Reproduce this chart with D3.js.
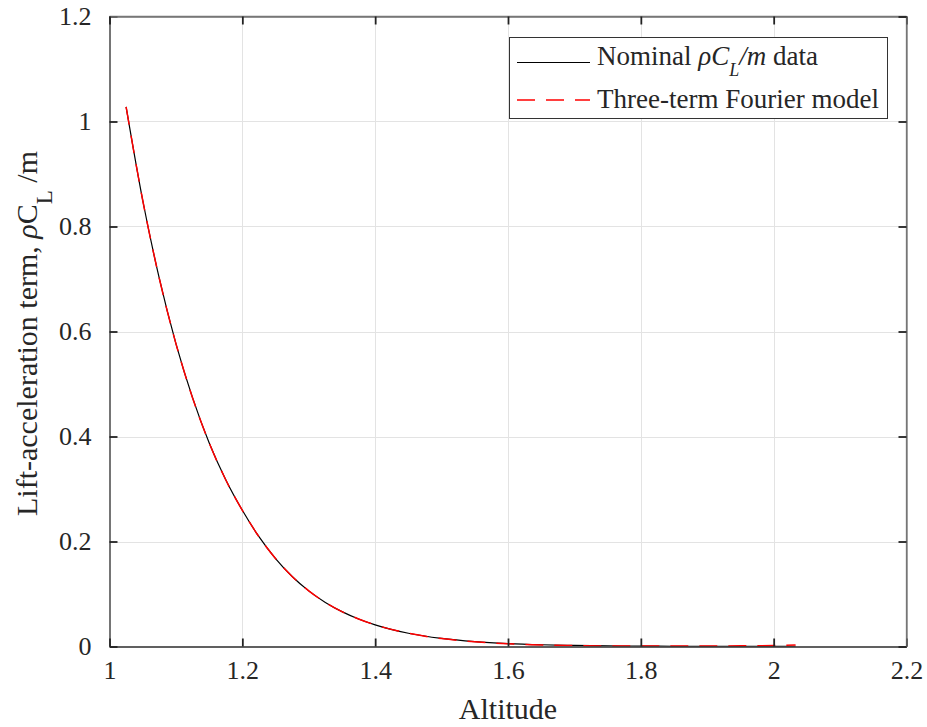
<!DOCTYPE html>
<html>
<head>
<meta charset="utf-8">
<script src="https://cdn.jsdelivr.net/npm/d3@7"></script>
<style>
  html, body { margin: 0; padding: 0; background: #fff; }
  svg { display: block; }
  text { font-family: "Liberation Serif", "Times New Roman", serif; fill: #262626; }
</style>
</head>
<body>
<svg id="chart" width="927" height="727"></svg>
<script>
// Altitude grid (normalised) and the lift-acceleration term rho*C_L/m
const altitude = [1.025, 1.05, 1.075, 1.1, 1.125, 1.15, 1.175, 1.2,
                  1.225, 1.25, 1.275, 1.3, 1.325, 1.35, 1.375, 1.4, 1.45, 1.5,
                  1.55, 1.6, 1.65, 1.7, 1.75, 1.8, 1.85, 1.9, 1.95, 2.0, 2.033];
const nominal = [1.028, 0.850, 0.701, 0.577, 0.474, 0.388, 0.3176, 0.2594,
                 0.2092, 0.1675, 0.1334, 0.106, 0.0840, 0.0664, 0.0524, 0.0412, 0.0252, 0.0153,
                 0.00924, 0.00555, 0.00331, 0.00197, 0.00117, 0.00069, 0.00041, 0.00024, 0.00014, 0.00008, 0.00006];
const fourier = [1.028, 0.850, 0.701, 0.577, 0.474, 0.388, 0.3176, 0.2594,
                 0.2092, 0.1675, 0.1334, 0.106, 0.0840, 0.0664, 0.0524, 0.0412, 0.0252, 0.0151,
                 0.0089, 0.0051, 0.0030, 0.0017, 0.0010, 0.0008, 0.0008, 0.0009, 0.0012, 0.0018, 0.0030];
const xTicks = [1, 1.2, 1.4, 1.6, 1.8, 2, 2.2];
const yTicks = [0, 0.2, 0.4, 0.6, 0.8, 1, 1.2];
const seriesNames = ["Nominal", "Three-term Fourier model"];

const svg = d3.select("#chart");
const L = 109.5, R = 906.5, T = 16.5, B = 646.5;

const x = d3.scaleLinear().domain([1, 2.2]).range([L, R]);
const y = d3.scaleLinear().domain([0, 1.2]).range([B, T]);

svg.append("defs").append("clipPath").attr("id", "plotArea")
  .append("rect").attr("x", L).attr("y", T).attr("width", R - L).attr("height", B - T);

// grid
const grid = svg.append("g").attr("stroke", "#e3e3e3").attr("stroke-width", 1);
grid.selectAll(".gx").data(xTicks.slice(1, -1)).join("line")
  .attr("x1", d => Math.round(x(d)) + 0.5).attr("x2", d => Math.round(x(d)) + 0.5)
  .attr("y1", T).attr("y2", B);
grid.selectAll(".gy").data(yTicks.slice(1, -1)).join("line")
  .attr("y1", d => Math.round(y(d)) + 0.5).attr("y2", d => Math.round(y(d)) + 0.5)
  .attr("x1", L).attr("x2", R);

// curves
const pts = vals => altitude.map((a, i) => [a, vals[i]]);
const line = d3.line().x(d => x(d[0])).y(d => y(d[1])).curve(d3.curveMonotoneX);
const plot = svg.append("g").attr("clip-path", "url(#plotArea)");
plot.append("path").datum(pts(nominal)).attr("d", line)
  .attr("fill", "none").attr("stroke", "#000").attr("stroke-width", 1.2);
plot.append("path").datum(pts(fourier)).attr("d", line)
  .attr("fill", "none").attr("stroke", "#ff0000").attr("stroke-width", 1.5)
  .attr("stroke-dasharray", "18,11");

// axes box: bottom/left darker, top/right lighter
svg.append("line").attr("x1", L).attr("x2", R).attr("y1", T).attr("y2", T)
  .attr("stroke", "#777").attr("stroke-width", 1.3);
svg.append("line").attr("x1", R).attr("x2", R).attr("y1", T).attr("y2", B)
  .attr("stroke", "#777").attr("stroke-width", 1.3);

// axes with inward ticks on all four sides
const tickLen = 8;
const xAxis = d3.axisBottom(x).tickValues(xTicks).tickSizeInner(-tickLen).tickSizeOuter(0)
  .tickPadding(14).tickFormat(d3.format("~g"));
const yAxis = d3.axisLeft(y).tickValues(yTicks).tickSizeInner(-tickLen).tickSizeOuter(0)
  .tickPadding(18).tickFormat(d3.format("~g"));
const xTop = d3.axisTop(x).tickValues(xTicks).tickSizeInner(-tickLen).tickSizeOuter(0).tickFormat("");
const yRight = d3.axisRight(y).tickValues(yTicks).tickSizeInner(-tickLen).tickSizeOuter(0).tickFormat("");

function styleAxis(g) {
  g.attr("font-family", null);
  g.select(".domain").attr("stroke", "#2b2b2b").attr("stroke-width", 1.3);
  g.selectAll(".tick line").attr("stroke", "#222").attr("stroke-width", 1.8);
  g.selectAll(".tick text").attr("font-size", 26).attr("fill", "#262626");
}
svg.append("g").attr("transform", `translate(0,${B})`).call(xAxis).call(styleAxis);
svg.append("g").attr("transform", `translate(${L},0)`).call(yAxis).call(styleAxis);
svg.append("g").attr("transform", `translate(0,${T})`).call(xTop).call(styleAxis)
  .select(".domain").attr("stroke", "#777");
svg.append("g").attr("transform", `translate(${R},0)`).call(yRight).call(styleAxis)
  .select(".domain").attr("stroke", "#777");

// axis labels
svg.append("text").attr("x", (L + R) / 2).attr("y", 719).attr("text-anchor", "middle")
  .attr("font-size", 30).text("Altitude");

const yl = svg.append("text").attr("transform", `translate(37,${(T + B) / 2 + 2}) rotate(-90)`)
  .attr("text-anchor", "middle").attr("font-size", 30);
yl.append("tspan").text("Lift-acceleration term, ");
yl.append("tspan").attr("font-style", "italic").text("ρ");
yl.append("tspan").text("C");
yl.append("tspan").attr("font-size", 23).attr("dy", 15).text("L");
yl.append("tspan").attr("dy", -15).text(" /m");

// legend
const lg = svg.append("g");
lg.append("rect").attr("x", 509.5).attr("y", 37.5).attr("width", 378).attr("height", 81)
  .attr("fill", "#fff").attr("stroke", "#333").attr("stroke-width", 1);
lg.append("line").attr("x1", 517).attr("x2", 590).attr("y1", 62.5).attr("y2", 62.5)
  .attr("stroke", "#000").attr("stroke-width", 1.2);
lg.append("line").attr("x1", 517).attr("x2", 590).attr("y1", 100).attr("y2", 100)
  .attr("stroke", "#ff0000").attr("stroke-width", 1.5).attr("stroke-dasharray", "18,11");

const t1 = lg.append("text").attr("x", 597).attr("y", 65).attr("font-size", 27);
t1.append("tspan").text(seriesNames[0] + " ");
t1.append("tspan").attr("font-style", "italic").text("ρC");
t1.append("tspan").attr("font-style", "italic").attr("font-size", 18).attr("dy", 11).text("L");
t1.append("tspan").attr("font-style", "italic").attr("dy", -11).text("/m");
t1.append("tspan").text(" data");
lg.append("text").attr("x", 597).attr("y", 108).attr("font-size", 27).text(seriesNames[1]);
</script>
</body>
</html>
